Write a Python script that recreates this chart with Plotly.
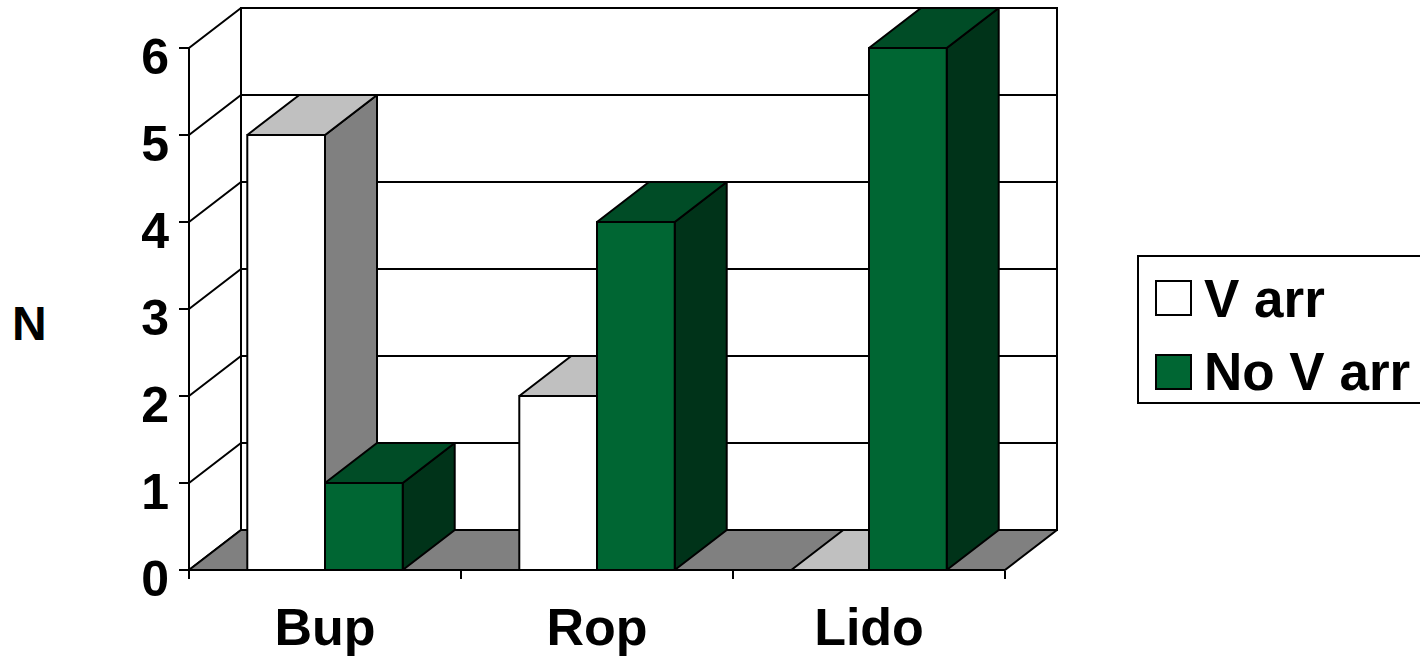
import plotly.graph_objects as go

# ---------------- data ----------------
categories = ["Bup", "Rop", "Lido"]
series_names = ["V arr", "No V arr"]
v_arr = [5, 2, 0]
no_v_arr = [1, 4, 6]
y_ticks = [0, 1, 2, 3, 4, 5, 6]
y_axis_title = "N"

series_values = [v_arr, no_v_arr]

# ---------------- style ----------------
FRONT = ["#FFFFFF", "#006633"]
TOP = ["#C0C0C0", "#004C26"]
SIDE = ["#808080", "#003319"]
FLOOR = "#808080"
LINE_W = 2
FAM = "Liberation Sans, Arial, sans-serif"
TICK_FONT = dict(family=FAM, size=50, color="black", weight="bold")
CAT_FONT = dict(family=FAM, size=52, color="black", weight="bold")
LEG_FONT = dict(family=FAM, size=53, color="black", weight="bold")
N_FONT = dict(family=FAM, size=48, color="black", weight="bold")

FIG_W, FIG_H = 1420, 659
X0PX, SX = 189, 272      # pixel of front x=0, pixels per category
Y0PX, SY = 570, 87       # pixel of y=0, pixels per unit
L, R_EDGE = 162, 1090
T, B_EDGE = 2, 590
xmin = (L - X0PX) / SX
xmax = (R_EDGE - X0PX) / SX
ymax = (Y0PX - T) / SY
ymin = (Y0PX - B_EDGE) / SY

DX = 52 / SX             # depth offset (category units)
DY = 40 / SY             # depth offset (value units)
GAP = 1.5                # gap width relative to bar width
BW = 1.0 / (len(series_names) + GAP)
OFF = GAP / 2 * BW

n = len(categories)
ytop = max(y_ticks)

fig = go.Figure()


def poly(xs, ys, fill):
    fig.add_trace(go.Scatter(
        x=list(xs) + [xs[0]], y=list(ys) + [ys[0]], mode="lines",
        fill="toself", fillcolor=fill,
        line=dict(color="black", width=LINE_W),
        hoverinfo="skip", showlegend=False))


def line(xs, ys):
    fig.add_trace(go.Scatter(
        x=xs, y=ys, mode="lines", line=dict(color="black", width=LINE_W),
        hoverinfo="skip", showlegend=False))


# walls
poly([0, 0, DX, DX], [0, ytop, ytop + DY, DY], "#FFFFFF")
poly([DX, DX, n + DX, n + DX], [DY, ytop + DY, ytop + DY, DY], "#FFFFFF")
for k in y_ticks[1:-1]:
    line([0, DX, n + DX], [k, k + DY, k + DY])
# floor
poly([0, n, n + DX, DX], [0, 0, DY, DY], FLOOR)

# bars, left to right
for ci in range(n):
    for si, vals in enumerate(series_values):
        v = vals[ci]
        x0 = ci + OFF + si * BW
        x1 = x0 + BW
        # side face
        poly([x1, x1 + DX, x1 + DX, x1], [0, DY, v + DY, v], SIDE[si])
        # top face
        poly([x0, x1, x1 + DX, x0 + DX], [v, v, v + DY, v + DY], TOP[si])
        # front face
        if v > 0:
            poly([x0, x1, x1, x0], [0, 0, v, v], FRONT[si])

# ---------------- legend (drawn in pixel-derived paper coords) ----------------
PW = R_EDGE - L
PH = B_EDGE - T


def px(xp):
    return (xp - L) / PW


def py(yp):
    return (B_EDGE - yp) / PH


shapes = [dict(type="rect", xref="paper", yref="paper",
               x0=px(1138), x1=px(1440), y0=py(403), y1=py(256),
               line=dict(color="black", width=LINE_W), fillcolor="rgba(0,0,0,0)")]
annotations = []
sw_tops = [281, 355]
for si, name in enumerate(series_names):
    top = sw_tops[si]
    shapes.append(dict(type="rect", xref="paper", yref="paper",
                       x0=px(1156), x1=px(1191), y0=py(top + 34), y1=py(top),
                       line=dict(color="black", width=LINE_W), fillcolor=FRONT[si]))
    annotations.append(dict(xref="paper", yref="paper", x=px(1202), y=py(top + 17),
                            xanchor="left", yanchor="middle", text=name,
                            showarrow=False, font=LEG_FONT))

annotations.append(dict(xref="paper", yref="paper", x=px(29), y=py(323),
                        xanchor="center", yanchor="middle", text=y_axis_title,
                        showarrow=False, font=N_FONT))

fig.update_layout(
    width=FIG_W, height=FIG_H,
    margin=dict(l=L, r=FIG_W - R_EDGE, t=T, b=FIG_H - B_EDGE, pad=0),
    paper_bgcolor="white", plot_bgcolor="white",
    showlegend=False,
    shapes=shapes, annotations=annotations,
    xaxis=dict(range=[xmin, xmax], showgrid=False, zeroline=False, showline=False,
               anchor="free", position=(0 - ymin) / (ymax - ymin),
               tickvals=[i + 0.5 for i in range(n)], ticktext=categories,
               ticks="", tickfont=CAT_FONT, ticklabelstandoff=22,
               minor=dict(tickvals=list(range(n + 1)), ticks="outside", ticklen=8,
                          tickwidth=2, tickcolor="black", showgrid=False)),
    yaxis=dict(range=[ymin, ymax], showgrid=False, zeroline=False, showline=False,
               anchor="free", position=(0 - xmin) / (xmax - xmin),
               tickvals=y_ticks, ticktext=[str(t) for t in y_ticks],
               ticks="outside", ticklen=10, tickwidth=2, tickcolor="black",
               tickfont=TICK_FONT, ticklabelstandoff=0, ticklabelshift=8),
)

fig.write_html("out.html")
